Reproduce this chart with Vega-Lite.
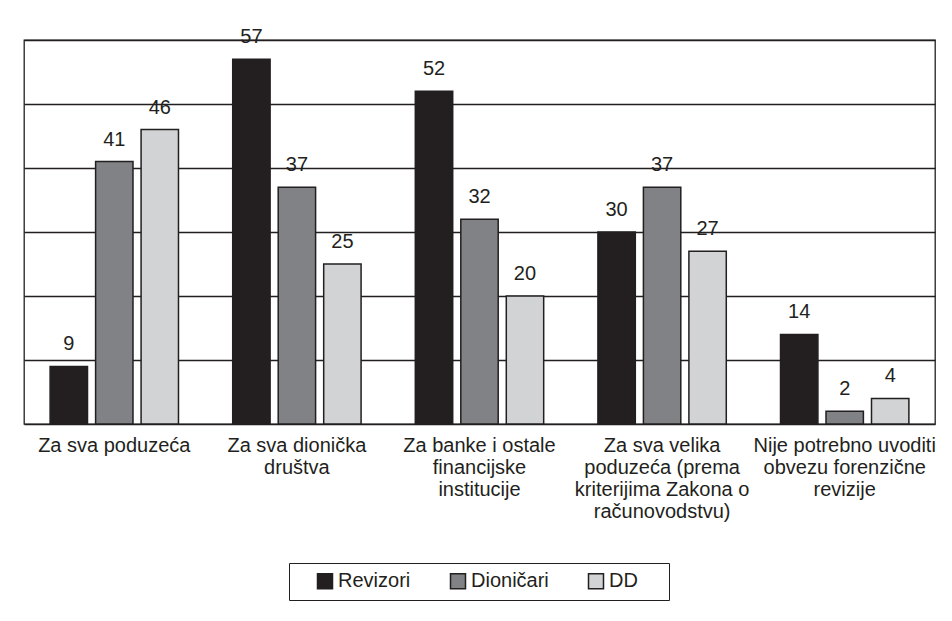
{
  "$schema": "https://vega.github.io/schema/vega-lite/v6.json",
  "width": 911,
  "height": 384,
  "autosize": "none",
  "padding": {"left": 24, "top": 40, "right": 17, "bottom": 197},
  "background": "white",
  "data": {
    "values": [
      {"kategorija": "Za sva poduzeća", "skupina": "Revizori", "vrijednost": 9},
      {"kategorija": "Za sva poduzeća", "skupina": "Dioničari", "vrijednost": 41},
      {"kategorija": "Za sva poduzeća", "skupina": "DD", "vrijednost": 46},
      {"kategorija": "Za sva dionička društva", "skupina": "Revizori", "vrijednost": 57},
      {"kategorija": "Za sva dionička društva", "skupina": "Dioničari", "vrijednost": 37},
      {"kategorija": "Za sva dionička društva", "skupina": "DD", "vrijednost": 25},
      {"kategorija": "Za banke i ostale financijske institucije", "skupina": "Revizori", "vrijednost": 52},
      {"kategorija": "Za banke i ostale financijske institucije", "skupina": "Dioničari", "vrijednost": 32},
      {"kategorija": "Za banke i ostale financijske institucije", "skupina": "DD", "vrijednost": 20},
      {"kategorija": "Za sva velika poduzeća (prema kriterijima Zakona o računovodstvu)", "skupina": "Revizori", "vrijednost": 30},
      {"kategorija": "Za sva velika poduzeća (prema kriterijima Zakona o računovodstvu)", "skupina": "Dioničari", "vrijednost": 37},
      {"kategorija": "Za sva velika poduzeća (prema kriterijima Zakona o računovodstvu)", "skupina": "DD", "vrijednost": 27},
      {"kategorija": "Nije potrebno uvoditi obvezu forenzične revizije", "skupina": "Revizori", "vrijednost": 14},
      {"kategorija": "Nije potrebno uvoditi obvezu forenzične revizije", "skupina": "Dioničari", "vrijednost": 2},
      {"kategorija": "Nije potrebno uvoditi obvezu forenzične revizije", "skupina": "DD", "vrijednost": 4}
    ]
  },
  "config": {
    "font": "Liberation Sans",
    "view": {"stroke": "#231f20", "strokeWidth": 1.3}
  },
  "encoding": {
    "x": {
      "field": "kategorija",
      "type": "nominal",
      "sort": null,
      "scale": {"paddingInner": 0.297, "paddingOuter": 0.143},
      "axis": {
        "title": null,
        "labelAngle": 0,
        "labelExpr": "datum.label == 'Za sva dionička društva' ? ['Za sva dionička', 'društva'] : datum.label == 'Za banke i ostale financijske institucije' ? ['Za banke i ostale', 'financijske', 'institucije'] : datum.label == 'Za sva velika poduzeća (prema kriterijima Zakona o računovodstvu)' ? ['Za sva velika', 'poduzeća (prema', 'kriterijima Zakona o', 'računovodstvu)'] : datum.label == 'Nije potrebno uvoditi obvezu forenzične revizije' ? ['Nije potrebno uvoditi', 'obvezu forenzične', 'revizije'] : datum.label",
        "labelFontSize": 20,
        "labelLineHeight": 22,
        "labelPadding": 11,
        "labelBaseline": "top",
        "labelLimit": 400,
        "labelColor": "#231f20",
        "ticks": false,
        "domain": false
      }
    },
    "xOffset": {
      "field": "skupina",
      "type": "nominal",
      "sort": ["Revizori", "Dioničari", "DD"],
      "scale": {"paddingInner": 0.178, "paddingOuter": 0}
    },
    "y": {
      "field": "vrijednost",
      "type": "quantitative",
      "scale": {"domain": [0, 60], "nice": false},
      "axis": {
        "title": null,
        "values": [0, 10, 20, 30, 40, 50, 60],
        "labels": false,
        "ticks": false,
        "domain": false,
        "grid": true,
        "gridColor": "#231f20",
        "gridWidth": 1.3,
        "gridOpacity": 1
      }
    }
  },
  "layer": [
    {
      "mark": {"type": "bar", "stroke": "#231f20", "strokeWidth": 1.5},
      "encoding": {
        "fill": {
          "field": "skupina",
          "type": "nominal",
          "sort": ["Revizori", "Dioničari", "DD"],
          "scale": {"domain": ["Revizori", "Dioničari", "DD"], "range": ["#231f20", "#808285", "#d1d3d4"]},
          "legend": {
            "title": "\u00a0",
            "titleOrient": "left",
            "titleFontSize": 20,
            "titlePadding": 18,
            "orient": "none",
            "legendX": 265,
            "legendY": 523,
            "direction": "horizontal",
            "symbolType": "square",
            "symbolSize": 225,
            "symbolStrokeColor": "#231f20",
            "symbolStrokeWidth": 1.5,
            "symbolOpacity": 1,
            "labelFontSize": 20,
            "labelColor": "#231f20",
            "labelOffset": 3,
            "labelExpr": "datum.label == 'DD' ? 'DD\u00a0\u00a0\u00a0\u00a0\u200b' : datum.label",
            "columnPadding": 36,
            "padding": 8,
            "strokeColor": "#231f20"
          }
        }
      }
    },
    {
      "mark": {"type": "text", "baseline": "bottom", "dy": -12, "fontSize": 20, "color": "#231f20"},
      "encoding": {
        "text": {"field": "vrijednost", "type": "quantitative"}
      }
    }
  ]
}
